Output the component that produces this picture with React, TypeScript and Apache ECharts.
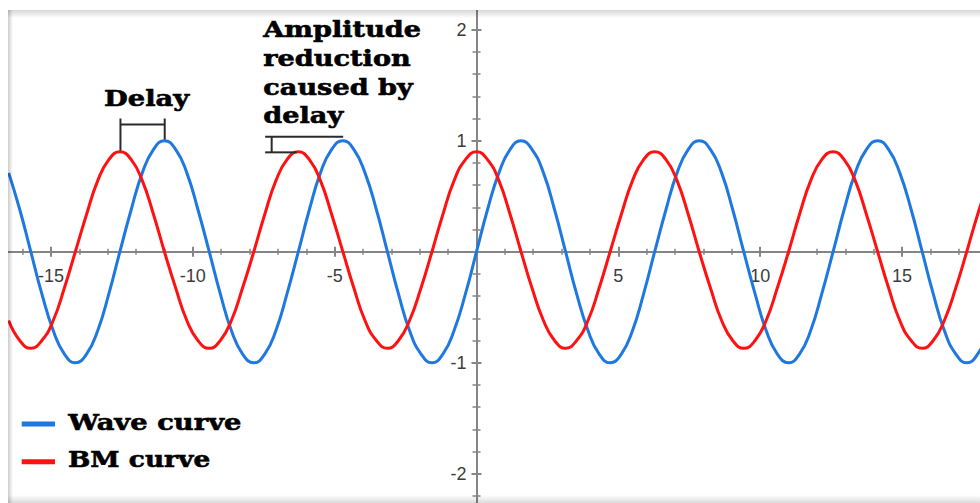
import React, { useEffect, useRef } from "react";
import * as echarts from "echarts";

// x positions (radians) read along the horizontal axis
const xs = [
  -16.49, -16.1, -15.71, -15.32, -14.92, -14.53, -14.14, -13.74, -13.35, -12.96,
  -12.57, -12.17, -11.78, -11.39, -11.0, -10.6, -10.21, -9.82, -9.42, -9.03,
  -8.64, -8.25, -7.85, -7.46, -7.07, -6.68, -6.28, -5.89, -5.5, -5.11,
  -4.71, -4.32, -3.93, -3.53, -3.14, -2.75, -2.36, -1.96, -1.57, -1.18,
  -0.79, -0.39, 0, 0.39, 0.79, 1.18, 1.57, 1.96, 2.36, 2.75,
  3.14, 3.53, 3.93, 4.32, 4.71, 5.11, 5.5, 5.89, 6.28, 6.68,
  7.07, 7.46, 7.85, 8.25, 8.64, 9.03, 9.42, 9.82, 10.21, 10.6,
  11.0, 11.39, 11.78, 12.17, 12.57, 12.96, 13.35, 13.74, 14.14, 14.53,
  14.92, 15.32, 15.71, 16.1, 16.49, 16.89, 17.28, 17.67, 18.06,
];

// Wave curve (blue) values
const waveCurve = [
  0.71, 0.38, 0, -0.38, -0.71, -0.92, -1, -0.92, -0.71, -0.38,
  0, 0.38, 0.71, 0.92, 1, 0.92, 0.71, 0.38, 0, -0.38, -0.71, -0.92, -1, -0.92, -0.71, -0.38,
  0, 0.38, 0.71, 0.92, 1, 0.92, 0.71, 0.38, 0, -0.38, -0.71, -0.92, -1, -0.92, -0.71, -0.38,
  0, 0.38, 0.71, 0.92, 1, 0.92, 0.71, 0.38, 0, -0.38, -0.71, -0.92, -1, -0.92, -0.71, -0.38,
  0, 0.38, 0.71, 0.92, 1, 0.92, 0.71, 0.38, 0, -0.38, -0.71, -0.92, -1, -0.92, -0.71, -0.38,
  0, 0.38, 0.71, 0.92, 1, 0.92, 0.71, 0.38, 0, -0.38, -0.71, -0.92, -1, -0.92, -0.71,
];

// BM curve (red) values
const bmCurve = [
  -0.62, -0.8, -0.87, -0.8, -0.62, -0.33, 0, 0.34, 0.64, 0.83,
  0.9, 0.83, 0.64, 0.34, 0, -0.33, -0.62, -0.8, -0.87, -0.8, -0.62, -0.33, 0, 0.34, 0.64, 0.83,
  0.9, 0.83, 0.64, 0.34, 0, -0.33, -0.62, -0.8, -0.87, -0.8, -0.62, -0.33, 0, 0.34, 0.64, 0.83,
  0.9, 0.83, 0.64, 0.34, 0, -0.33, -0.62, -0.8, -0.87, -0.8, -0.62, -0.33, 0, 0.34, 0.64, 0.83,
  0.9, 0.83, 0.64, 0.34, 0, -0.33, -0.62, -0.8, -0.87, -0.8, -0.62, -0.33, 0, 0.34, 0.64, 0.83,
  0.9, 0.83, 0.64, 0.34, 0, -0.33, -0.62, -0.8, -0.87, -0.8, -0.62, -0.33, 0, 0.34, 0.64,
];

const seriesNames = ["Wave curve", "BM curve"];
const xTickLabels = [-15, -10, -5, 5, 10, 15];
const yTickLabels = [-2, -1, 1, 2];

const BLUE = "#1f78e0";
const RED = "#ff1111";
const AXIS = "#858585";
const HEAVY = "'DejaVu Serif', serif";

// the chart canvas is larger than the page and shifted by (OX, OY)
const OX = 100;
const OY = 90;
const GL = 9.1;
const GT = 8.7;
const GW = 1134.8;
const GH = 666;
const X0 = GL + GW / 2; // inner pixel of x = 0
const Y0 = GT + GH / 2; // inner pixel of y = 0

function App() {
  const ref = useRef<HTMLDivElement>(null);
  useEffect(() => {
    document.body.style.margin = "0";
    const chart = echarts.init(ref.current!, undefined, { renderer: "svg" });
    const toPairs = (ys: number[]) => xs.map((x, i) => [x, ys[i]]);

    const labelStyle = {
      fontSize: 18,
      fontFamily: "'Liberation Sans', Arial, sans-serif",
      color: "#3c3c3c",
    };
    const hidden = (gridIndex: number, min: number, max: number) => ({
      type: "value", gridIndex, min, max, show: false,
      axisLine: { onZero: false }, splitLine: { show: false },
    });
    const xAxisVis = (gridIndex: number, inside: boolean) => ({
      type: "value",
      gridIndex,
      min: -20,
      max: 20,
      interval: 5,
      position: "bottom",
      axisLine: { show: !inside, onZero: false, lineStyle: { color: AXIS, width: 2 } },
      axisTick: { show: true, inside, length: 5, lineStyle: { color: AXIS, width: 2 } },
      minorTick: { show: true, splitNumber: 5, length: 3, lineStyle: { color: AXIS, width: 1.5 } },
      splitLine: { show: false },
      minorSplitLine: { show: false },
      axisLabel: {
        show: !inside,
        margin: 15,
        ...labelStyle,
        formatter: (v: number) => (xTickLabels.includes(v) ? String(v) : ""),
      },
    });
    const yAxisVis = (gridIndex: number, inside: boolean) => ({
      type: "value",
      gridIndex,
      min: -3,
      max: 3,
      interval: 1,
      position: "left",
      axisLine: { show: !inside, onZero: false, lineStyle: { color: AXIS, width: 2 } },
      axisTick: { show: true, inside, length: 5, lineStyle: { color: AXIS, width: 2 } },
      minorTick: { show: true, splitNumber: 5, length: 4, lineStyle: { color: AXIS, width: 1.5 } },
      splitLine: { show: false },
      minorSplitLine: { show: false },
      axisLabel: {
        show: !inside,
        margin: 10,
        ...labelStyle,
        formatter: (v: number) => (yTickLabels.includes(v) ? String(v) : ""),
      },
    });

    const mainGrid = { left: GL, top: GT, width: GW, height: GH, containLabel: false, outerBoundsMode: "none" };
    // grids whose left edge sits on x = 0 (vertical axis) and whose bottom edge sits on y = 0 (horizontal axis)
    const yGrid = { left: X0, top: GT, width: 400, height: GH, containLabel: false, outerBoundsMode: "none" };
    const xGrid = { left: GL, top: GT, width: GW, height: Y0 - GT, containLabel: false, outerBoundsMode: "none" };

    chart.setOption({
      animation: false,
      backgroundColor: "#ffffff",
      grid: [mainGrid, yGrid, yGrid, xGrid, xGrid],
      xAxis: [
        hidden(0, -20, 20),
        hidden(1, 0, 1),
        hidden(2, 0, 1),
        xAxisVis(3, false),
        xAxisVis(4, true),
      ],
      yAxis: [
        hidden(0, -3, 3),
        yAxisVis(1, false),
        yAxisVis(2, true),
        hidden(3, 0, 1),
        hidden(4, 0, 1),
      ],
      series: [
        {
          name: seriesNames[0],
          type: "line",
          xAxisIndex: 0,
          yAxisIndex: 0,
          data: toPairs(waveCurve),
          smooth: 0.5,
          showSymbol: false,
          lineStyle: { color: BLUE, width: 3 },
          itemStyle: { color: BLUE },
          z: 3,
        },
        {
          name: seriesNames[1],
          type: "line",
          xAxisIndex: 0,
          yAxisIndex: 0,
          data: toPairs(bmCurve),
          smooth: 0.5,
          showSymbol: false,
          lineStyle: { color: RED, width: 3 },
          itemStyle: { color: RED },
          z: 4,
        },
      ],
    });

    const p = (x: number, y: number) => chart.convertToPixel({ gridIndex: 0 }, [x, y]) as number[];
    const seg = (a: number[], b: number[]) => ({
      type: "line",
      z: 50,
      shape: { x1: a[0], y1: a[1], x2: b[0], y2: b[1] },
      style: { stroke: "#2b2b2b", lineWidth: 2 },
    });

    // Delay bracket (red peak -> blue peak)
    const redPeakX = -12.55;
    const bluePeakX = -10.99;
    const delayTop = 1.2;
    const delayBar = 1.145;
    // Amplitude bracket
    const ampLeft = -7.45;
    const ampTick = -7.22;
    const ampTopY = 1.035;
    const ampTopRight = -4.7;
    const ampLowY = 0.895;
    const ampLowRight = -6.34;

    const heavyText = (text: string, x: number, y: number, va: string, sx: number, lh?: number) => ({
      type: "text",
      x: x + OX,
      y: y + OY,
      scaleX: sx,
      z: 60,
      style: {
        text,
        fontSize: 23,
        fontWeight: "bold",
        fontFamily: HEAVY,
        fill: "#000000",
        stroke: "#000000",
        lineWidth: 0.6,
        align: "left",
        verticalAlign: va,
        textAlign: "left",
        textVerticalAlign: va,
        lineHeight: lh,
      },
    });

    const grad = (x1: number, y1: number, x2: number, y2: number, c0: string, c1: string) =>
      new echarts.graphic.LinearGradient(x1, y1, x2, y2, [
        { offset: 0, color: c0 },
        { offset: 1, color: c1 },
      ]);

    chart.setOption({
      graphic: [
        // frame / shadow
        { type: "rect", z: 80, shape: { x: 0, y: 0, width: 1150, height: OY + 10 }, style: { fill: "#ffffff" } },
        { type: "rect", z: 80, shape: { x: 0, y: 0, width: OX + 8, height: 700 }, style: { fill: "#ffffff" } },
        {
          type: "rect", z: 81,
          shape: { x: OX + 8, y: OY + 10, width: 1050, height: 8 },
          style: { fill: grad(0, 0, 0, 1, "rgba(0,0,0,0.16)", "rgba(0,0,0,0)") },
        },
        {
          type: "rect", z: 81,
          shape: { x: OX + 8, y: OY + 10, width: 5, height: 500 },
          style: { fill: grad(0, 0, 1, 0, "rgba(0,0,0,0.2)", "rgba(0,0,0,0)") },
        },
        {
          type: "rect", z: 81,
          shape: { x: OX + 8, y: OY + 495, width: 1050, height: 8 },
          style: { fill: grad(0, 0, 0, 1, "rgba(0,0,0,0)", "rgba(0,0,0,0.14)") },
        },
        // Delay bracket
        seg(p(redPeakX, delayTop), p(redPeakX, 0.91)),
        seg(p(bluePeakX, delayTop), p(bluePeakX, 1.01)),
        seg(p(redPeakX, delayBar), p(bluePeakX, delayBar)),
        // Amplitude bracket
        seg(p(ampLeft, ampTopY), p(ampTopRight, ampTopY)),
        seg(p(ampLeft, ampLowY), p(ampLowRight, ampLowY)),
        seg(p(ampTick, ampTopY), p(ampTick, ampLowY)),
        // annotations
        heavyText("Delay", 104, 98.3, "middle", 1.19),
        heavyText("Amplitude\nreduction\ncaused by\ndelay", 263.3, 14.65, "top", 1.18, 28.7),
        // legend
        { type: "rect", z: 60, shape: { x: 21.7 + OX, y: 421.5 + OY, width: 33.3, height: 5 }, style: { fill: BLUE } },
        { type: "rect", z: 60, shape: { x: 21.7 + OX, y: 459.2 + OY, width: 33.3, height: 5 }, style: { fill: RED } },
        heavyText(seriesNames[0], 68.3, 421.6, "middle", 1.19),
        heavyText(seriesNames[1], 68, 459, "middle", 1.15),
      ],
    });

    return () => chart.dispose();
  }, []);

  return (
    <div style={{ position: "fixed", left: 0, top: 0, width: 980, height: 503, overflow: "hidden", background: "#fff" }}>
      <div ref={ref} style={{ position: "absolute", left: -OX, top: -OY, width: 1150, height: 700 }} />
    </div>
  );
}

export default App;
